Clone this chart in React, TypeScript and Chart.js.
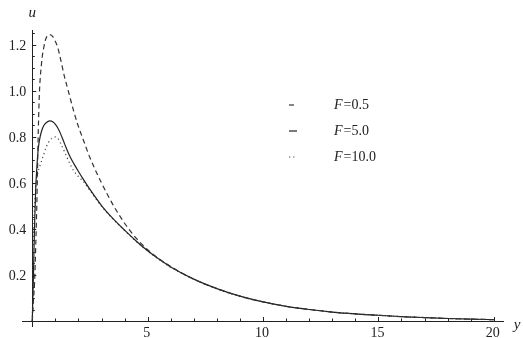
import React, { useEffect, useRef } from "react";
import { Chart, registerables } from "chart.js";

Chart.register(...registerables);

// horizontal variable (named "y" in the figure)
const yPos = [0, 0.05, 0.1, 0.15, 0.2, 0.25, 0.3, 0.4, 0.5, 0.6, 0.76, 0.9, 1.0, 1.1, 1.2, 1.4, 1.6, 1.8, 2.0, 2.2, 2.5, 3.0, 3.5, 4.0, 4.5, 5, 5.5, 6, 7, 8, 9, 10, 11, 12, 13, 14, 15, 16, 17, 18, 19, 20];

const uF05 = [0, 0.09, 0.17, 0.33, 0.52, 0.78, 0.97, 1.12, 1.19, 1.23, 1.245, 1.235, 1.215, 1.19, 1.15, 1.06, 0.985, 0.91, 0.845, 0.79, 0.71, 0.6, 0.505, 0.425, 0.36, 0.31, 0.27, 0.237, 0.182, 0.141, 0.108, 0.083, 0.064, 0.05, 0.039, 0.031, 0.025, 0.019, 0.015, 0.011, 0.008, 0.006];
const uF50 = [0, 0.2, 0.42, 0.58, 0.67, 0.74, 0.78, 0.825, 0.85, 0.862, 0.87, 0.865, 0.855, 0.84, 0.82, 0.77, 0.722, 0.684, 0.65, 0.618, 0.572, 0.502, 0.445, 0.395, 0.348, 0.305, 0.268, 0.235, 0.182, 0.141, 0.108, 0.083, 0.064, 0.05, 0.039, 0.031, 0.025, 0.019, 0.015, 0.011, 0.008, 0.006];
const uF100 = [0, 0.35, 0.5, 0.58, 0.625, 0.65, 0.665, 0.695, 0.725, 0.755, 0.785, 0.797, 0.8, 0.795, 0.778, 0.735, 0.69, 0.652, 0.628, 0.608, 0.567, 0.499, 0.443, 0.393, 0.346, 0.304, 0.267, 0.234, 0.181, 0.14, 0.107, 0.083, 0.064, 0.05, 0.039, 0.031, 0.025, 0.019, 0.015, 0.011, 0.008, 0.006];

const seriesLabels = ["F=0.5", "F=5.0", "F=10.0"];
const xTickLabels = ["5", "10", "15", "20"];
const yTickLabels = ["0.2", "0.4", "0.6", "0.8", "1.0", "1.2"];
const xTickValues = [1, 2, 3, 4, 5, 6, 7, 8, 9, 10, 11, 12, 13, 14, 15, 16, 17, 18, 19, 20];
const yTickValues = [0.05, 0.1, 0.15, 0.2, 0.25, 0.3, 0.35, 0.4, 0.45, 0.5, 0.55, 0.6, 0.65, 0.7, 0.75, 0.8, 0.85, 0.9, 0.95, 1.0, 1.05, 1.1, 1.15, 1.2, 1.25];

const FONT = "'Liberation Serif', 'DejaVu Serif', serif";
const INK = "#222";

const pts = (vals: number[]) => yPos.map((x, i) => ({ x, y: vals[i] }));

const isMult = (v: number, s: number) => Math.abs(v / s - Math.round(v / s)) < 1e-6;

const decorPlugin = {
  id: "decor",
  afterDraw(chart: any) {
    const ctx = chart.ctx as CanvasRenderingContext2D;
    const xs = chart.scales.x;
    const ys = chart.scales.y;
    const x0 = xs.getPixelForValue(0);
    const y0 = ys.getPixelForValue(0);
    ctx.save();
    ctx.strokeStyle = INK;
    ctx.lineWidth = 1;
    // inward tick marks
    xTickValues.forEach((v) => {
      const px = Math.round(xs.getPixelForValue(v)) + 0.5;
      const len = isMult(v, 5) ? 4 : 2.5;
      ctx.beginPath();
      ctx.moveTo(px, y0);
      ctx.lineTo(px, y0 - len);
      ctx.stroke();
    });
    yTickValues.forEach((v) => {
      const py = Math.round(ys.getPixelForValue(v)) + 0.5;
      const len = isMult(v, 0.2) ? 4 : 2.5;
      ctx.beginPath();
      ctx.moveTo(x0, py);
      ctx.lineTo(x0 + len, py);
      ctx.stroke();
    });
    // tick labels
    ctx.fillStyle = INK;
    ctx.font = `14px ${FONT}`;
    ctx.textBaseline = "middle";
    ctx.textAlign = "right";
    yTickLabels.forEach((s) => {
      ctx.fillText(s, x0 - 6, ys.getPixelForValue(parseFloat(s)) + 1);
    });
    ctx.textAlign = "center";
    xTickLabels.forEach((s) => {
      ctx.fillText(s, xs.getPixelForValue(parseFloat(s)) - 1, y0 + 12);
    });
    // axis labels
    ctx.font = `italic 15px ${FONT}`;
    ctx.fillText("u", x0, 13);
    ctx.fillText("y", xs.right + 14, y0 + 4);
    // legend
    const rows = [105, 131, 157];
    chart.data.datasets.forEach((ds: any, i: number) => {
      const ry = rows[i];
      ctx.save();
      ctx.strokeStyle = ds.borderColor;
      ctx.lineWidth = ds.borderWidth;
      ctx.setLineDash(ds.borderDash || []);
      ctx.beginPath();
      ctx.moveTo(289, ry);
      ctx.lineTo(297, ry);
      ctx.stroke();
      ctx.restore();
      const label: string = ds.label;
      ctx.textAlign = "left";
      ctx.font = `italic 14px ${FONT}`;
      const f = label.slice(0, 1);
      ctx.fillText(f, 334, ry);
      const w = ctx.measureText(f).width;
      ctx.font = `14px ${FONT}`;
      ctx.fillText(label.slice(1), 334 + w + 1, ry);
    });
    ctx.restore();
  },
};

export default function App() {
  const ref = useRef<HTMLCanvasElement | null>(null);
  useEffect(() => {
    if (!ref.current) return;
    const common = { pointRadius: 0, cubicInterpolationMode: "monotone" as const, fill: false, borderWidth: 1.2 };
    const chart = new Chart(ref.current, {
      type: "line",
      data: {
        datasets: [
          { ...common, label: seriesLabels[0], data: pts(uF05), borderColor: "#333", borderDash: [5, 3.5] },
          { ...common, label: seriesLabels[1], data: pts(uF50), borderColor: "#222" },
          { ...common, label: seriesLabels[2], data: pts(uF100), borderColor: "#444", borderDash: [1.2, 3] },
        ],
      },
      options: {
        animation: false,
        responsive: true,
        maintainAspectRatio: false,
        layout: { padding: { left: 22, right: 20, top: 30, bottom: 12 } },
        plugins: { legend: { display: false }, tooltip: { enabled: false } },
        scales: {
          x: {
            type: "linear",
            position: { y: 0 } as any,
            min: -0.446,
            max: 20.4,
            afterBuildTicks: (s: any) => { s.ticks = xTickValues.map((value) => ({ value })); },
            grid: { display: true, drawOnChartArea: false, drawTicks: false },
            border: { display: true, color: INK, width: 1 },
            ticks: { display: false },
          },
          y: {
            type: "linear",
            position: { x: 0 } as any,
            min: -0.0217,
            max: 1.265,
            afterBuildTicks: (s: any) => { s.ticks = yTickValues.map((value) => ({ value })); },
            grid: { display: true, drawOnChartArea: false, drawTicks: false },
            border: { display: true, color: INK, width: 1 },
            ticks: { display: false },
          },
        },
      },
      plugins: [decorPlugin],
    });
    return () => chart.destroy();
  }, []);
  return (
    <div style={{ position: "absolute", left: 0, top: 0, width: 523, height: 338, background: "#fff" }}>
      <canvas ref={ref} />
    </div>
  );
}
